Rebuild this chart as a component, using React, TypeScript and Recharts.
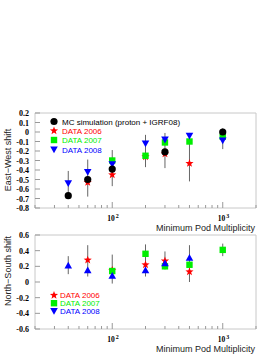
import React from 'react';
import { ScatterChart, Scatter, XAxis, YAxis, ErrorBar, ReferenceArea } from 'recharts';

// Minimum pod multiplicity bins
const multiplicity = [40, 60, 100, 200, 300, 500, 1000];

// East-West shift
const ewMc = [-0.67, -0.5, -0.39, null, -0.21, null, 0.0];
const ew2006 = [null, -0.53, -0.45, -0.26, -0.23, -0.33, null];
const ew2007 = [null, null, -0.3, -0.25, -0.11, -0.1, -0.05];
const ew2008 = [-0.54, -0.42, -0.34, -0.12, -0.08, -0.04, -0.09];
const ewErrLo = [-0.66, -0.68, -0.57, -0.37, -0.38, -0.52, -0.18];
const ewErrHi = [-0.41, -0.29, -0.19, -0.03, -0.01, -0.01, 0.04];

// North-South shift
const ns2006 = [null, 0.28, 0.15, 0.22, 0.27, 0.13, null];
const ns2007 = [null, null, 0.14, 0.36, 0.2, 0.22, 0.41];
const ns2008 = [0.21, 0.15, 0.08, 0.15, 0.24, 0.31, null];
const nsErrLo = [0.1, 0.07, -0.02, 0.07, 0.16, 0.0, 0.33];
const nsErrHi = [0.33, 0.47, 0.35, 0.48, 0.39, 0.47, 0.49];

const xTicks = [20, 30, 40, 50, 60, 70, 80, 90, 100, 200, 300, 400, 500, 600, 700, 800, 900, 1000, 2000];
const xMajor = [100, 1000];
const xMajorExp = ['2', '3'];
const ewTicks = [0.2, 0.1, 0, -0.1, -0.2, -0.3, -0.4, -0.5, -0.6, -0.7, -0.8];
const ewLabels = ['0.2', '0.1', '0', '-0.1', '-0.2', '-0.3', '-0.4', '-0.5', '-0.6', '-0.7', '-0.8'];
const nsTicks = [0.6, 0.4, 0.2, 0, -0.2, -0.4, -0.6];
const nsLabels = ['0.6', '0.4', '0.2', '0', '-0.2', '-0.4', '-0.6'];

const ewLegend = ['MC simulation (proton + IGRF08)', 'DATA 2006', 'DATA 2007', 'DATA 2008'];
const nsLegend = ['DATA 2006', 'DATA 2007', 'DATA 2008'];

const RED = '#ff0000';
const GREEN = '#00ee00';
const BLUE = '#0000ff';
const FRAME = '#c8c8c8';
const SANS = '"Liberation Sans", Arial, sans-serif';
const SERIF = '"Liberation Serif", "Times New Roman", serif';

const pts = (ys: (number | null)[]) =>
  multiplicity.map((x, i) => ({ x, y: ys[i] })).filter((p) => p.y !== null);
const bars = (lo: number[], hi: number[]) =>
  multiplicity.map((x, i) => ({ x, y: lo[i], err: [0, hi[i] - lo[i]] }));

const Dot = ({ cx, cy }: any) => <circle cx={cx} cy={cy} r={3.6} fill="#000" />;
const Star = ({ cx, cy }: any) => {
  const p: string[] = [];
  for (let k = 0; k < 10; k++) {
    const r = k % 2 === 0 ? 4.3 : 1.8;
    const a = (Math.PI / 5) * k - Math.PI / 2;
    p.push(`${cx + r * Math.cos(a)},${cy + r * Math.sin(a)}`);
  }
  return <polygon points={p.join(' ')} fill={RED} />;
};
const Square = ({ cx, cy }: any) => <rect x={cx - 3.2} y={cy - 3.2} width={6.4} height={6.4} fill={GREEN} />;
const TriDown = ({ cx, cy }: any) => (
  <polygon points={`${cx - 3.8},${cy - 3} ${cx + 3.8},${cy - 3} ${cx},${cy + 3.8}`} fill={BLUE} />
);
const TriUp = ({ cx, cy }: any) => (
  <polygon points={`${cx - 3.8},${cy + 3} ${cx + 3.8},${cy + 3} ${cx},${cy - 3.8}`} fill={BLUE} />
);
const Nothing = () => <g />;

const XTick = ({ x, y, payload }: any) => {
  const i = xMajor.indexOf(payload.value);
  const major = i >= 0;
  return (
    <g>
      <line x1={x} x2={x} y1={y} y2={y - (major ? 6 : 3)} stroke="#999" />
      {major && (
        <text x={x - 5} y={y + 13} fontFamily={SERIF} fontWeight="bold" fontSize={7.5} fill="#000">
          10
          <tspan dy={-3} dx={1} fontSize={6}>
            {xMajorExp[i]}
          </tspan>
        </text>
      )}
    </g>
  );
};

const makeYTick = (ticks: number[], labels: string[]) => ({ x, y, payload }: any) => (
  <g>
    <line x1={x} x2={x + 5} y1={y} y2={y} stroke="#999" />
    <text x={x - 6} y={y + 3} textAnchor="end" fontFamily={SERIF} fontWeight="bold" fontSize={8} fill="#000">
      {labels[ticks.indexOf(payload.value)]}
    </text>
  </g>
);

const EwTick = makeYTick(ewTicks, ewLabels);
const NsTick = makeYTick(nsTicks, nsLabels);

const xAxisProps = {
  dataKey: 'x',
  type: 'number' as const,
  scale: 'log' as const,
  domain: [20, 2000],
  allowDataOverflow: true,
  ticks: xTicks,
  interval: 0 as const,
  tickSize: 0,
  tickMargin: 0,
  axisLine: false,
  tickLine: false,
  height: 20,
};

export default function App() {
  return (
    <div style={{ position: 'absolute', left: 0, top: 0, width: 274, height: 354, background: '#fff' }}>
      <div style={{ position: 'absolute', left: 0, top: 0 }}>
        <ScatterChart width={274} height={230} margin={{ top: 113, right: 18, left: 5, bottom: 2 }}>
          <XAxis {...xAxisProps} tick={<XTick />} />
          <YAxis
            dataKey="y"
            type="number"
            domain={[-0.8, 0.2]}
            ticks={ewTicks}
            interval={0}
            width={30}
            tickSize={0}
            tickMargin={0}
            axisLine={false}
            tickLine={false}
            tick={<EwTick />}
          />
          <ReferenceArea x1={20} x2={2000} y1={-0.8} y2={0.2} fill="none" stroke={FRAME} />
          <Scatter data={bars(ewErrLo, ewErrHi)} shape={<Nothing />} isAnimationActive={false}>
            <ErrorBar dataKey="err" direction="y" width={0} stroke="#666" strokeWidth={1} />
          </Scatter>
          <Scatter data={pts(ew2006)} shape={<Star />} isAnimationActive={false} />
          <Scatter data={pts(ew2007)} shape={<Square />} isAnimationActive={false} />
          <Scatter data={pts(ew2008)} shape={<TriDown />} isAnimationActive={false} />
          <Scatter data={pts(ewMc)} shape={<Dot />} isAnimationActive={false} />
        </ScatterChart>
      </div>
      <div style={{ position: 'absolute', left: 0, top: 230 }}>
        <ScatterChart width={274} height={124} margin={{ top: 5, right: 18, left: 5, bottom: 5 }}>
          <XAxis {...xAxisProps} tick={<XTick />} />
          <YAxis
            dataKey="y"
            type="number"
            domain={[-0.6, 0.6]}
            ticks={nsTicks}
            interval={0}
            width={30}
            tickSize={0}
            tickMargin={0}
            axisLine={false}
            tickLine={false}
            tick={<NsTick />}
          />
          <ReferenceArea x1={20} x2={2000} y1={-0.6} y2={0.6} fill="none" stroke={FRAME} />
          <Scatter data={bars(nsErrLo, nsErrHi)} shape={<Nothing />} isAnimationActive={false}>
            <ErrorBar dataKey="err" direction="y" width={0} stroke="#666" strokeWidth={1} />
          </Scatter>
          <Scatter data={pts(ns2006)} shape={<Star />} isAnimationActive={false} />
          <Scatter data={pts(ns2007)} shape={<Square />} isAnimationActive={false} />
          <Scatter data={pts(ns2008)} shape={<TriUp />} isAnimationActive={false} />
        </ScatterChart>
      </div>
      <svg width={274} height={354} style={{ position: 'absolute', left: 0, top: 0, pointerEvents: 'none' }}>
        <g fontFamily={SANS} fontSize={8}>
          <Dot cx={54} cy={121.5} />
          <text x={62} y={124.5} fill="#000">{ewLegend[0]}</text>
          <Star cx={54} cy={130.8} />
          <text x={62} y={133.8} fill={RED}>{ewLegend[1]}</text>
          <Square cx={54} cy={140} />
          <text x={62} y={143} fill={GREEN}>{ewLegend[2]}</text>
          <TriDown cx={54} cy={149.5} />
          <text x={62} y={152.5} fill={BLUE}>{ewLegend[3]}</text>

          <Star cx={54} cy={295.3} />
          <text x={60} y={298.3} fill={RED}>{nsLegend[0]}</text>
          <Square cx={54} cy={303.2} />
          <text x={60} y={306.2} fill={GREEN}>{nsLegend[1]}</text>
          <TriDown cx={54} cy={311} />
          <text x={60} y={314} fill={BLUE}>{nsLegend[2]}</text>
        </g>
        <g fontFamily={SANS} fontSize={9} fill="#222">
          <text x={255} y={230.5} textAnchor="end">Minimum Pod Multiplicity</text>
          <text x={255} y={351.5} textAnchor="end">Minimum Pod Multiplicity</text>
          <text transform="translate(10.5,160) rotate(-90)" textAnchor="middle">East−West shift</text>
          <text transform="translate(10.5,271) rotate(-90)" textAnchor="middle">North−South shift</text>
        </g>
      </svg>
    </div>
  );
}
